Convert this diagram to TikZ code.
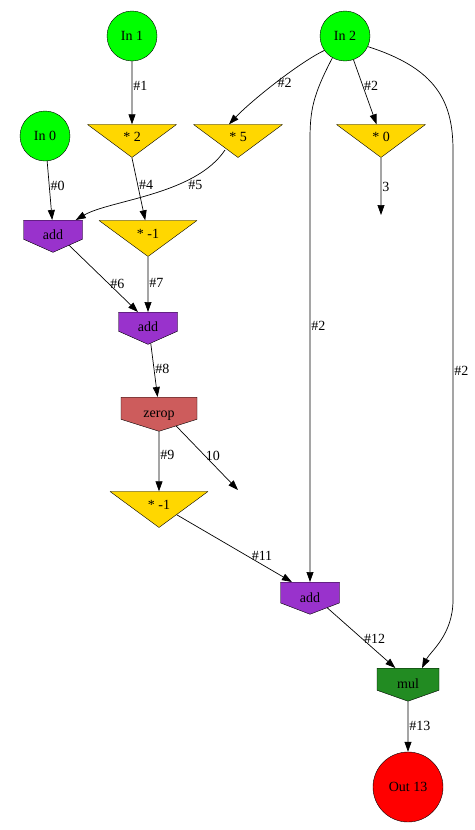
\documentclass[tikz,border=0pt]{standalone}
\usepackage{fontspec}
\setmainfont{Liberation Serif}
\usetikzlibrary{shapes.geometric, shapes.symbols, arrows.meta, calc}

\definecolor{incolor}{RGB}{0,255,0}
\definecolor{scalecolor}{RGB}{255,215,0}
\definecolor{addcolor}{RGB}{153,50,204}
\definecolor{zerocolor}{RGB}{205,92,92}
\definecolor{mulcolor}{RGB}{34,139,34}
\definecolor{outcolor}{RGB}{255,0,0}

\tikzset{
  every node/.style={font=\fontsize{14}{16}\selectfont},
  innode/.style={circle, draw, fill=incolor, minimum size=50pt, inner sep=0pt},
  outnode/.style={circle, draw, fill=outcolor, minimum size=70pt, inner sep=0pt},
  scalenode/.style={isosceles triangle, shape border rotate=270, isosceles triangle stretches,
    draw, fill=scalecolor, inner sep=0pt, minimum width=89pt, minimum height=33pt, anchor=apex},
  opnode/.style={signal, signal to=south, signal from=nowhere, signal pointer angle=132,
    draw, fill=addcolor, inner sep=0pt, text height=19pt, text depth=0pt,
    minimum width=59pt, minimum height=23.2pt, anchor=north},
  wire/.style={-{Triangle[length=10pt,width=7pt]}, line width=0.7pt},
  lbl/.style={anchor=west, inner sep=1pt},
}

\begin{document}
\begin{tikzpicture}[x=1pt, y=-1pt, line join=round]

  \useasboundingbox (0,0) rectangle (474,830);

  % Eingaenge
  \node[innode] (in0) at (45,136) {In 0};
  \node[innode] (in1) at (132,36) {In 1};
  \node[innode] (in2) at (345,36) {In 2};

  % Skalierungen (Dreiecke, Spitze unten)
  \node[scalenode] (s2) at (132,158) {* 2};
  \node[scalenode] (s5) at (238,158) {* 5};
  \node[scalenode] (s0) at (381,158) {* 0};
  \node[scalenode, minimum width=98pt, minimum height=34pt] (sm1) at (148,257) {* -1};
  \node[scalenode, minimum width=98pt, minimum height=34pt] (sm2) at (159,528) {* -1};

  % Operationen
  \node[opnode] (add1) at (53,220) {add};
  \node[opnode] (add2) at (148,312) {add};
  \node[opnode, fill=zerocolor, signal pointer angle=145, minimum width=76pt, minimum height=27pt] (zero) at (159,397) {zerop};
  \node[opnode, signal pointer angle=138, minimum height=24.6pt] (add3) at (310,582) {add};
  \node[opnode, fill=mulcolor, signal pointer angle=141, minimum width=62pt, minimum height=25.9pt] (mul) at (408,668) {mul};

  % Ausgang
  \node[outnode] (out) at (408,787) {Out 13};

  % offene Enden
  \coordinate (end3) at (381,215);
  \coordinate (end10) at (238,490);

  % Kanten
  \draw[wire] (in1) -- node[lbl, pos=0.39] {\#1} (s2);
  \draw[wire] (in0) -- node[lbl, pos=0.42] {\#0} (add1);
  \draw[wire] (in2.215) .. controls (300,62) and (252,100) .. node[lbl, pos=0.5] {\#2} ($(s5.left corner)!0.6!(s5.right corner)$);
  \draw[wire] (in2) -- node[lbl, pos=0.4] {\#2} (s0);
  \draw[wire] (in2.240) .. controls (313,95) and (310,110) .. (310,140) -- node[lbl, pos=0.42] {\#2} (add3);
  \draw[wire] (in2.-25) .. controls (435,68) and (453,100) .. (453,150) -- node[lbl, pos=0.49] {\#2} (453,600) .. controls (453,635) and (430,652) .. ($(mul.north)+(14,0)$);
  \draw[wire] (s2.apex) -- node[lbl, pos=0.43] {\#4} (sm1);
  \draw[wire] ($(s5.apex)+(-13,-8)$) .. controls (195,195) and (110,200) .. node[anchor=north, pos=0.24] {\#5} ($(add1.north east)+(-7,0)$);
  \draw[wire] (s0) -- node[lbl, pos=0.5] {3} (end3);
  \draw[wire] (add1) -- node[lbl, pos=0.58] {\#6} (add2);
  \draw[wire] (sm1) -- node[lbl, pos=0.48] {\#7} (add2);
  \draw[wire] (add2) -- node[lbl, pos=0.47] {\#8} (zero);
  \draw[wire] (zero) -- node[lbl, pos=0.4] {\#9} (sm2);
  \draw[wire] (zero) -- node[lbl, pos=0.46] {10} (end10);
  \draw[wire] (sm2) -- node[above, pos=0.74] {\#11} (add3);
  \draw[wire] (add3) -- node[lbl, pos=0.52] {\#12} (mul);
  \draw[wire] (mul) -- node[lbl, pos=0.49] {\#13} (out);

\end{tikzpicture}
\end{document}
